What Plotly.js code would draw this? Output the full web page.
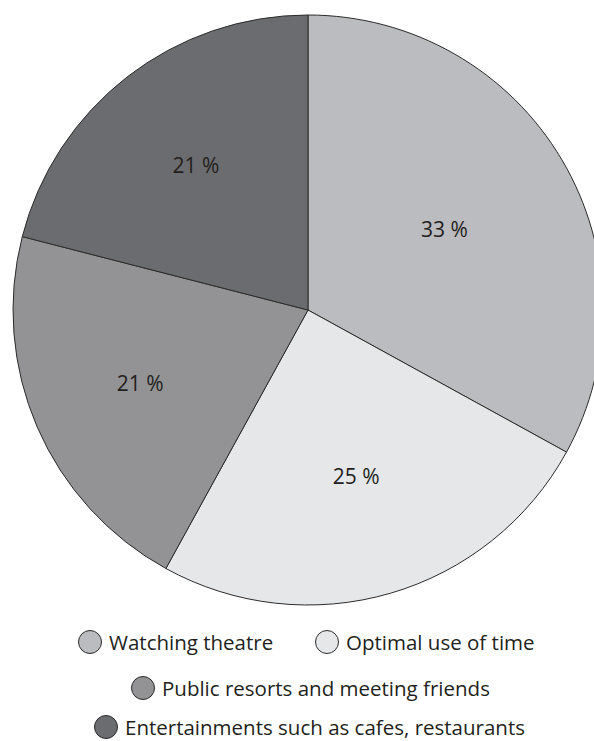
<!DOCTYPE html>
<html>
<head>
<meta charset="utf-8">
<script src="https://cdn.plot.ly/plotly-3.0.1.min.js"></script>
<style>
html,body{margin:0;padding:0;overflow:hidden;background:#fff;width:594px;height:741px;}
#chart{width:620px;height:741px;}
</style>
</head>
<body>
<div id="chart"></div>
<script>
// Data
var categories = ["Watching theatre", "Optimal use of time", "Public resorts and meeting friends", "Entertainments such as cafes, restaurants"];
var values = [33, 25, 21, 21];
var sliceLabels = values.map(function(v){ return v + " %"; });
var colors = ["#bbbcbf", "#e6e7e9", "#939396", "#6b6c6f"];

var W = 620, H = 741;
function px(x){ return x / W; }
function py(y){ return 1 - y / H; }

var fontFam = "'Open Sans', 'Noto Sans', sans-serif";

var pie = {
  type: "pie",
  values: values,
  labels: categories,
  text: sliceLabels,
  textinfo: "text",
  textposition: "inside",
  insidetextorientation: "horizontal",
  sort: false,
  direction: "clockwise",
  rotation: 0,
  marker: {colors: colors, line: {color: "#2b2b2b", width: 1}},
  textfont: {family: fontFam, size: 21, color: "#231f20"},
  domain: {x: [px(13), px(603)], y: [py(605), py(15)]},
  showlegend: false,
  hoverinfo: "label+text"
};

// Legend layout (positions of legend entries in pixels)
var legendPos = [
  {cx: 90, cy: 642},
  {cx: 327, cy: 642},
  {cx: 143, cy: 688},
  {cx: 106, cy: 727}
];

var shapes = [], annotations = [];
categories.forEach(function(c, i){
  var p = legendPos[i];
  shapes.push({
    type: "circle", xref: "paper", yref: "paper",
    xsizemode: "pixel", ysizemode: "pixel",
    xanchor: px(p.cx), yanchor: py(p.cy),
    x0: -11.5, x1: 11.5, y0: -11.5, y1: 11.5,
    fillcolor: colors[i], line: {color: "#2b2b2b", width: 1}
  });
  annotations.push({
    xref: "paper", yref: "paper",
    x: px(p.cx + 18), y: py(p.cy),
    xanchor: "left", yanchor: "middle",
    borderpad: 0,
    text: c, showarrow: false,
    font: {family: fontFam, size: 20.5, color: "#231f20"}
  });
});

var layout = {
  width: W, height: H,
  margin: {l: 0, r: 0, t: 0, b: 0},
  paper_bgcolor: "#ffffff",
  showlegend: false,
  shapes: shapes,
  annotations: annotations
};

Plotly.newPlot("chart", [pie], layout, {displayModeBar: false, staticPlot: true});
</script>
</body>
</html>
